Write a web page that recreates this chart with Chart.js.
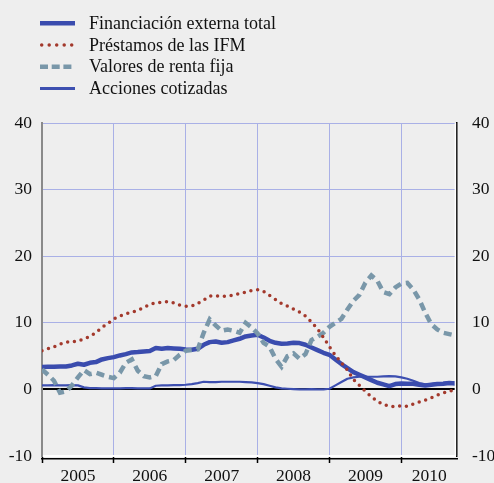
<!DOCTYPE html>
<html><head><meta charset="utf-8">
<script src="https://cdn.jsdelivr.net/npm/chart.js@4"></script>
<style>html,body{margin:0;padding:0;background:#eeeeee;} #wrap{width:494px;height:483px;position:relative;}</style>
</head><body><div id="wrap"><canvas id="c"></canvas></div>
<script>
const yearLabels = ['2005','2006','2007','2008','2009','2010'];
const seriesNames = ['Financiación externa total','Préstamos de las IFM','Valores de renta fija','Acciones cotizadas'];
const yTicks = [-10,0,10,20,30,40];

const financiacion = [3.35,3.4,3.4,3.45,3.45,3.6,3.85,3.7,4.0,4.1,
 4.5,4.7,4.85,5.1,5.3,5.55,5.6,5.7,5.75,6.2,
 6.1,6.2,6.15,6.1,6.0,5.95,6.1,6.7,7.1,7.2,
 7.0,7.1,7.35,7.6,7.95,8.1,8.2,7.8,7.3,7.0,
 6.85,6.9,7.0,6.95,6.7,6.3,5.9,5.5,5.2,4.5,
 3.8,3.2,2.6,2.2,1.8,1.4,1.0,0.75,0.5,0.8,
 0.9,0.85,0.85,0.7,0.6,0.7,0.8,0.85,0.95,0.9];

const prestamos = [5.8,6.1,6.4,6.8,7.1,7.1,7.3,7.55,7.95,8.5,
 9.3,9.9,10.6,11.0,11.35,11.6,11.85,12.3,12.75,13.0,
 13.1,13.2,13.0,12.65,12.5,12.5,12.9,13.4,14.0,14.05,
 14.0,14.0,14.15,14.4,14.6,14.85,14.95,14.7,14.1,13.5,
 12.9,12.5,12.05,11.6,11.0,10.1,9.1,7.8,6.4,5.1,
 4.0,2.9,1.5,0.6,-0.3,-1.1,-1.8,-2.25,-2.55,-2.6,
 -2.45,-2.55,-2.2,-1.9,-1.6,-1.25,-0.85,-0.55,-0.25,-0.05];

const valores = [3.0,2.2,1.3,-0.5,-0.3,0.6,1.8,2.9,2.3,2.5,
 2.2,1.9,1.7,2.5,4.0,4.5,2.8,2.0,1.8,2.0,
 3.8,4.2,4.4,5.2,5.8,5.9,6.0,8.5,10.5,9.6,
 8.8,9.0,8.8,8.5,10.0,9.3,8.4,7.0,6.4,4.6,
 3.4,5.0,5.4,4.6,5.3,7.4,7.9,8.5,9.4,10.0,
 10.6,12.0,13.3,14.2,16.0,17.1,16.3,14.6,14.3,15.3,
 15.9,16.0,15.0,13.5,11.5,9.8,9.0,8.5,8.3,8.1];

const acciones = [0.6,0.6,0.65,0.6,0.6,0.65,0.6,0.3,0.2,0.2,
 0.15,0.15,0.15,0.15,0.2,0.2,0.15,0.15,0.15,0.55,
 0.6,0.6,0.65,0.65,0.7,0.8,0.95,1.15,1.1,1.1,
 1.15,1.15,1.15,1.15,1.1,1.05,0.95,0.8,0.55,0.3,
 0.15,0.1,0.05,0.0,0.0,0.05,0.0,0.0,0.1,0.6,
 1.1,1.6,1.8,1.9,1.9,1.9,1.9,1.95,2.0,1.95,
 1.8,1.6,1.3,0.95,0.75,0.8,0.95,1.0,1.1,1.05];

const X_MAX = 69.3;
const FONT = "'Liberation Serif','Times New Roman',serif";
const GRID = '#a9b0e6';
const toPoints = arr => arr.map((v, i) => ({x: i, y: v}));

const legendPlugin = {
  id: 'customLegend',
  afterDraw(chart) {
    const ctx = chart.ctx;
    const a = chart.chartArea;
    ctx.save();
    // white inner edge next to the right axis
    ctx.strokeStyle = '#ffffff';
    ctx.lineWidth = 1.5;
    ctx.beginPath();
    ctx.moveTo(a.right - 1.6, a.top);
    ctx.lineTo(a.right - 1.6, a.bottom);
    ctx.stroke();
    chart.data.datasets.forEach((ds, k) => {
      const y = 23.3 + k * 21.7;
      ctx.beginPath();
      ctx.strokeStyle = ds.borderColor;
      ctx.lineWidth = ds.legendWidth || ds.borderWidth;
      ctx.setLineDash(ds.legendDash || ds.borderDash || []);
      ctx.lineCap = ds.borderCapStyle || 'butt';
      const x0 = ds.legendStart || 40;
      ctx.moveTo(x0, y); ctx.lineTo(75, y); ctx.stroke();
      ctx.setLineDash([]);
      ctx.fillStyle = '#111';
      ctx.font = '18px ' + FONT;
      ctx.textBaseline = 'middle';
      ctx.textAlign = 'left';
      ctx.fillText(ds.label, 89, y + 1);
    });
    ctx.restore();
  }
};

const tickFont = {family: FONT, size: 17.5};
const ySide = (pos) => ({
  position: pos, min: -10, max: 40,
  afterBuildTicks: s => { s.ticks = yTicks.map(v => ({value: v})); },
  ticks: {font: tickFont, color: '#111', padding: pos === 'left' ? 10 : 15},
  grid: pos === 'left' ? {
    color: c => c.tick && c.tick.value === 0 ? '#000' : ((c.tick && c.tick.value === -10) ? 'rgba(0,0,0,0)' : GRID),
    lineWidth: c => c.tick && c.tick.value === 0 ? 2 : 1,
    drawTicks: false
  } : {drawOnChartArea: false, drawTicks: false},
  border: pos === 'left' ? {color: '#8a8a8a', width: 2} : {color: '#000', width: 1.5},
  afterFit: s => { s.width = pos === 'left' ? 42 : 37; }
});

new Chart(document.getElementById('c'), {
  type: 'line',
  data: {
    datasets: [
      {label: seriesNames[0], data: toPoints(financiacion), borderColor: '#3a4cae', borderWidth: 4.5, order: 2, borderJoinStyle: 'round'},
      {label: seriesNames[1], data: toPoints(prestamos), borderColor: '#a3392c', borderWidth: 3.5, borderDash: [0, 6.8], legendDash: [0, 7.5], legendStart: 41.7, borderCapStyle: 'round', order: 0},
      {label: seriesNames[2], data: toPoints(valores), borderColor: '#7997a9', borderWidth: 4.5, borderDash: [8, 5], legendDash: [8, 3.7], order: 1},
      {label: seriesNames[3], data: toPoints(acciones), borderColor: '#3d4fb0', borderWidth: 2.2, legendWidth: 3, order: 3, borderJoinStyle: 'round'}
    ]
  },
  options: {
    responsive: true, maintainAspectRatio: false, animation: false,
    layout: {padding: {top: 123, left: 0, right: 0, bottom: 0}},
    plugins: {legend: {display: false}, tooltip: {enabled: false}},
    elements: {point: {radius: 0}, line: {tension: 0}},
    scales: {
      x: {
        type: 'linear', position: 'bottom', min: 0, max: X_MAX,
        afterBuildTicks: s => { s.ticks = yearLabels.map((_, k) => ({value: 12 * k})); },
        ticks: {display: false},
        grid: {color: GRID, lineWidth: 1, tickColor: '#000', tickLength: 7, tickWidth: 1.5, drawTicks: true},
        border: {color: '#ffffff', width: 2},
        afterFit: s => { s.height = 3; }
      },
      xLab: {
        type: 'linear', position: 'bottom', min: 0, max: X_MAX,
        afterBuildTicks: s => { s.ticks = yearLabels.map((_, k) => ({value: (12 * k + Math.min(12 * k + 12, X_MAX)) / 2})); },
        ticks: {callback: (v, idx) => yearLabels[idx], font: tickFont, color: '#111', padding: 7, maxRotation: 0, autoSkip: false},
        grid: {display: false, drawTicks: false},
        border: {color: '#000', width: 1.5},
        afterFit: s => { s.height = 24; }
      },
      y: ySide('left'),
      y2: ySide('right')
    }
  },
  plugins: [legendPlugin]
});
</script>
</body></html>
